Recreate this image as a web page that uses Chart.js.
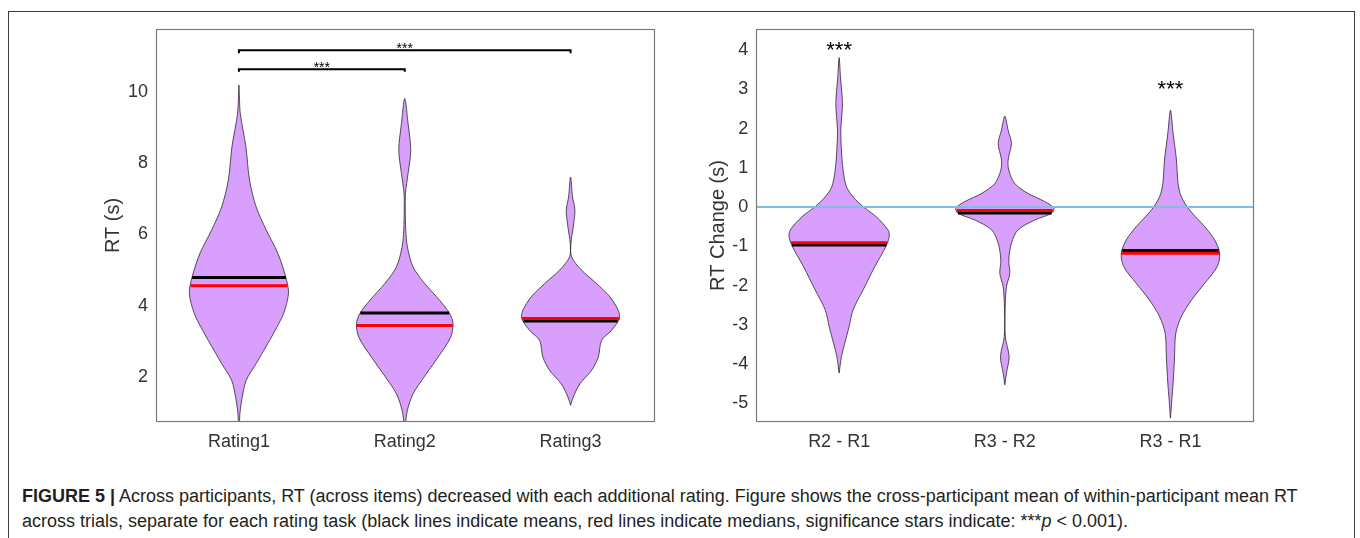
<!DOCTYPE html>
<html>
<head>
<meta charset="utf-8">
<script src="https://cdn.jsdelivr.net/npm/chart.js@4.4.1/dist/chart.umd.min.js"></script>
<style>
html,body{margin:0;padding:0;background:#fff;width:1360px;height:538px;overflow:hidden;}
#frame{position:absolute;left:8px;top:11px;width:1347px;height:620px;border:1.5px solid #3c3c3c;box-sizing:border-box;}
#c1{position:absolute;left:0;top:0;}
#c2{position:absolute;left:680px;top:0;}
#cap{position:absolute;left:22px;top:484px;font-family:"Liberation Sans",Arial,Helvetica,sans-serif;font-size:18px;line-height:25px;color:#231f20;white-space:nowrap;}
</style>
</head>
<body>
<div id="frame"></div>
<canvas id="c1" width="680" height="470"></canvas>
<canvas id="c2" width="680" height="470"></canvas>
<div id="cap"><b>FIGURE 5 |</b> Across participants, RT (across items) decreased with each additional rating. Figure shows the cross-participant mean of within-participant mean RT<br>across trials, separate for each rating task (black lines indicate means, red lines indicate medians, significance stars indicate: ***<i>p</i> &lt; 0.001).</div>
<script>
// ---------------- DATA ----------------
const leftCategories = ['Rating1', 'Rating2', 'Rating3'];
const rightCategories = ['R2 - R1', 'R3 - R2', 'R3 - R1'];
const leftTicks = [2, 4, 6, 8, 10];
const rightTicks = [-5, -4, -3, -2, -1, 0, 1, 2, 3, 4];

// violin profiles: RT values and half-widths (in category units)
const rating1Y = [0.60, 0.98, 1.44, 1.91, 2.38, 3.03, 3.40, 3.79, 4.35, 4.81, 5.47, 6.12, 6.77, 7.52, 8.46, 9.40, 10.19];
const rating1W = [0.002, 0.006, 0.020, 0.044, 0.104, 0.185, 0.229, 0.270, 0.299, 0.282, 0.235, 0.165, 0.104, 0.064, 0.042, 0.008, 0];
const rating2Y = [0.60, 1.07, 1.53, 2.00, 2.56, 3.12, 3.50, 3.78, 4.15, 4.62, 5.09, 5.65, 6.12, 6.77, 7.15, 7.71, 8.36, 9.11, 9.81];
const rating2W = [0.002, 0.016, 0.050, 0.116, 0.201, 0.277, 0.291, 0.271, 0.211, 0.121, 0.050, 0.016, 0.006, 0.003, 0.004, 0.020, 0.036, 0.020, 0];
const rating3Y = [1.21, 1.44, 1.81, 2.19, 2.56, 3.03, 3.31, 3.64, 3.87, 4.25, 4.62, 5.00, 5.37, 5.74, 6.21, 6.68, 7.05, 7.61];
const rating3W = [0, 0.016, 0.056, 0.127, 0.167, 0.187, 0.247, 0.294, 0.288, 0.237, 0.157, 0.066, 0.006, 0.002, 0.016, 0.026, 0.012, 0];

const diff21Y = [-4.23, -3.81, -3.47, -3.05, -2.62, -2.11, -1.52, -1.01, -0.76, -0.59, -0.25, 0.01, 0.26, 0.52, 0.94, 1.45, 1.96, 2.64, 3.32, 3.81];
const diff21W = [0, 0.014, 0.034, 0.060, 0.084, 0.145, 0.215, 0.282, 0.302, 0.296, 0.225, 0.145, 0.084, 0.044, 0.024, 0.014, 0.010, 0.020, 0.008, 0];
const diff32Y = [-4.53, -4.23, -3.81, -3.30, -2.45, -2.03, -1.69, -1.35, -0.92, -0.58, -0.33, -0.16, -0.03, 0.14, 0.35, 0.60, 0.94, 1.20, 1.62, 1.96, 2.32];
const diff32W = [0, 0.010, 0.026, 0.003, 0.003, 0.010, 0.030, 0.024, 0.040, 0.080, 0.181, 0.282, 0.296, 0.241, 0.139, 0.060, 0.024, 0.020, 0.040, 0.020, 0];
const diff31Y = [-5.38, -4.92, -4.49, -3.90, -3.22, -2.79, -2.37, -1.94, -1.52, -1.18, -0.84, -0.50, -0.08, 0.26, 0.60, 1.20, 1.88, 2.47];
const diff31W = [0, 0.008, 0.016, 0.024, 0.032, 0.066, 0.127, 0.207, 0.282, 0.297, 0.267, 0.207, 0.116, 0.066, 0.046, 0.036, 0.016, 0];

const leftMeans = [4.79, 3.80, 3.57];
const leftMedians = [4.56, 3.45, 3.64];
const rightMeans = [-0.97, -0.15, -1.11];
const rightMedians = [-0.91, -0.09, -1.18];

// significance brackets (left panel): category pairs, bar level, tick end
const bracketPairs = [[1, 2], [1, 3]];
const bracketLevels = [10.63, 11.16];
const bracketTickEnds = [10.56, 11.08];
const leftStarX = [1.5, 2];
const leftStarY = [10.78, 11.31];
const rightStarX = [1, 3];
const rightStarY = [4.145, 3.15];

// ---------------- STYLE ----------------
const FONT = '"Liberation Sans", Arial, Helvetica, sans-serif';
const VIOLIN_FILL = 'rgb(216,160,252)';

function widthAt(ys, ws, y) {
  for (let i = 0; i < ys.length - 1; i++) {
    if (y >= ys[i] && y <= ys[i + 1]) {
      const t = (y - ys[i]) / (ys[i + 1] - ys[i]);
      return ws[i] + t * (ws[i + 1] - ws[i]);
    }
  }
  return 0;
}

function violinDataset(center, ys, ws) {
  const pts = [];
  for (let i = 0; i < ys.length; i++) pts.push({x: center + ws[i], y: ys[i]});
  for (let i = ys.length - 2; i >= 0; i--) pts.push({x: center - ws[i], y: ys[i]});
  return {
    data: pts, showLine: true, fill: 'shape', backgroundColor: VIOLIN_FILL,
    borderColor: '#2a2a2a', borderWidth: 0.8, pointRadius: 0, tension: 0.3, order: 3
  };
}

function hLine(center, ys, ws, y, color, order) {
  const w = widthAt(ys, ws, y);
  return {
    data: [{x: center - w, y: y}, {x: center + w, y: y}], showLine: true,
    borderColor: color, borderWidth: 3, pointRadius: 0, tension: 0, fill: false, order: order
  };
}

const starPlugin = {
  id: 'stars',
  afterDatasetsDraw(chart, args, opts) {
    const ctx = chart.ctx;
    const xs = chart.scales.x, ys = chart.scales.y;
    ctx.save();
    ctx.fillStyle = '#000';
    ctx.textAlign = 'center';
    ctx.textBaseline = 'alphabetic';
    ctx.font = opts.size + 'px ' + FONT;
    opts.xs.forEach((xv, i) => {
      const px = xs.getPixelForValue(xv);
      const py = ys.getPixelForValue(opts.ys[i]) + 0.575 * opts.size;
      ctx.fillText('***', px, py);
    });
    ctx.restore();
  }
};

const boxPlugin = {
  id: 'box',
  afterDatasetsDraw(chart) {
    const a = chart.chartArea, ctx = chart.ctx;
    ctx.save();
    ctx.strokeStyle = '#7a7a7a';
    ctx.lineWidth = 1.2;
    ctx.strokeRect(Math.round(a.left) + 0.5, Math.round(a.top) + 0.5,
      Math.round(a.right - a.left), Math.round(a.bottom - a.top));
    ctx.restore();
  }
};

function makeChart(id, cats, ticks, yMin, yMax, profiles, means, medians, extra, pad, yAxisWidth, titleText, titlePad, stars) {
  const datasets = [];
  profiles.forEach((p, i) => {
    const c = i + 1;
    datasets.push(hLine(c, p[0], p[1], medians[i], '#ff0000', 0));
    datasets.push(hLine(c, p[0], p[1], means[i], '#000000', 1));
    datasets.push(violinDataset(c, p[0], p[1]));
  });
  extra.forEach(d => datasets.push(d));
  return new Chart(document.getElementById(id), {
    type: 'scatter',
    data: {datasets},
    plugins: [starPlugin, boxPlugin],
    options: {
      responsive: false, animation: false, devicePixelRatio: 1,
      layout: {padding: pad},
      plugins: {legend: {display: false}, tooltip: {enabled: false}, stars: stars},
      scales: {
        x: {
          type: 'linear', min: 0.5, max: 3.5,
          grid: {display: false, drawTicks: false}, border: {display: false},
          afterBuildTicks: s => { s.ticks = cats.map((_, i) => ({value: i + 1})); },
          afterFit: s => { s.height = 470 - 421.7 - pad.bottom; },
          ticks: {autoSkip: false, maxRotation: 0, padding: 10, color: '#333',
            font: {family: FONT, size: 18}, callback: (v, i) => cats[i]}
        },
        y: {
          type: 'linear', min: yMin, max: yMax,
          grid: {display: false, drawTicks: false}, border: {display: false},
          afterBuildTicks: s => { s.ticks = ticks.map(v => ({value: v})); },
          afterFit: s => { s.width = yAxisWidth; },
          ticks: {autoSkip: false, padding: 8, color: '#333',
            font: {family: FONT, size: 18}, callback: v => String(v)},
          title: {display: true, text: titleText, color: '#333',
            font: {family: FONT, size: 20}, padding: {top: titlePad, bottom: 0}}
        }
      }
    }
  });
}

// left panel extras: brackets
const leftExtra = bracketPairs.map((pr, i) => ({
  data: [{x: pr[0], y: bracketTickEnds[i]}, {x: pr[0], y: bracketLevels[i]},
         {x: pr[1], y: bracketLevels[i]}, {x: pr[1], y: bracketTickEnds[i]}],
  showLine: true, borderColor: '#000', borderWidth: 2, pointRadius: 0, tension: 0, fill: false, order: 0
}));
// right panel extra: zero line
const rightExtra = [{
  data: [{x: 0.5, y: 0}, {x: 3.5, y: 0}], showLine: true, borderColor: '#84bbe0',
  borderWidth: 2, pointRadius: 0, tension: 0, fill: false, order: 2
}];

makeChart('c1', leftCategories, leftTicks, 0.75, 11.75,
  [[rating1Y, rating1W], [rating2Y, rating2W], [rating3Y, rating3W]],
  leftMeans, leftMedians, leftExtra,
  {left: 0, top: 29.3, right: 26.5, bottom: 0}, 156, 'RT (s)', 101.6,
  {xs: leftStarX, ys: leftStarY, size: 14});

makeChart('c2', rightCategories, rightTicks, -5.47, 4.53,
  [[diff21Y, diff21W], [diff32Y, diff32W], [diff31Y, diff31W]],
  rightMeans, rightMedians, rightExtra,
  {left: 0, top: 29.3, right: 106.7, bottom: 0}, 76.3, 'RT Change (s)', 26,
  {xs: rightStarX, ys: rightStarY, size: 22});
</script>
</body>
</html>
